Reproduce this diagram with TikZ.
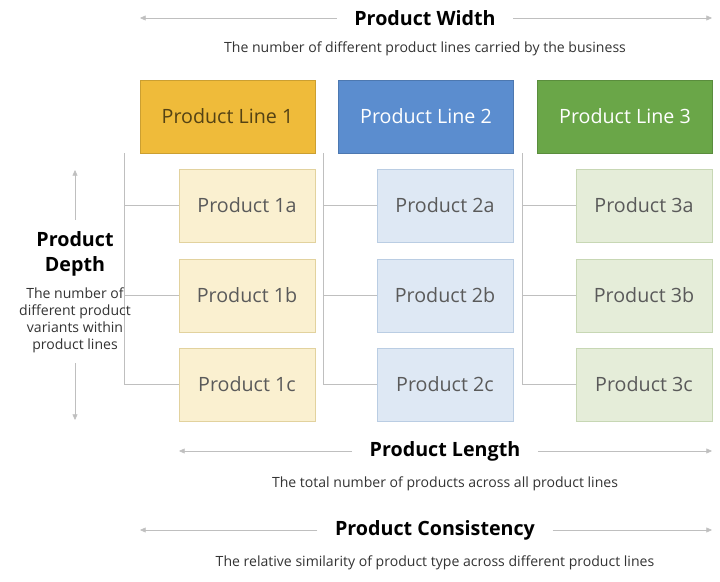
\documentclass[tikz,border=0pt]{standalone}
\usepackage{fontspec}
\setmainfont{Open Sans}
\usetikzlibrary{positioning,arrows.meta}
\definecolor{goldA}{HTML}{EFBB3A}
\definecolor{blueA}{HTML}{5B8DCF}
\definecolor{greenA}{HTML}{6AA648}
\definecolor{goldB}{HTML}{FAF0D0}
\definecolor{blueB}{HTML}{DEE8F4}
\definecolor{greenB}{HTML}{E5EDD9}
\definecolor{goldC}{HTML}{E2D29E}
\definecolor{blueC}{HTML}{BACDE3}
\definecolor{greenC}{HTML}{C7D7B4}
\definecolor{txt}{HTML}{5A5A5A}
\definecolor{rule}{HTML}{BFBFBF}
\tikzset{
  line/.style={draw=#1, minimum width=4.375cm, minimum height=1.825cm, font=\fontsize{14}{16}\selectfont},
  prod/.style={draw=#1, minimum width=3.4cm, minimum height=1.825cm, text=txt, font=\fontsize{14}{16}\selectfont},
  title/.style={font=\fontsize{14}{16}\selectfont\bfseries, inner sep=1pt},
  sub/.style={font=\fontsize{10}{12}\selectfont, text=black!80, inner sep=1pt},
  gray arrow/.style={draw=rule, -{Triangle[length=4pt,width=3.5pt]}},
  tree/.style={draw=rule, thick}
}
\begin{document}
\begin{tikzpicture}[x=0.025cm, y=-0.025cm]

\useasboundingbox (0,0) rectangle (720,582);

% Product lines
\node[line=goldA!85!black, fill=goldA, text=black!65!goldA] (pl1) at (227.5,116.5) {Product Line 1};
\node[line=blueA!85!black, fill=blueA, text=white] (pl2) at (426,116.5) {Product Line 2};
\node[line=greenA!85!black, fill=greenA, text=white] (pl3) at (625,116.5) {Product Line 3};

% Products
\foreach \i/\x/\c in {1/247/gold, 2/445/blue, 3/644/green} {
  \node[prod=\c C, fill=\c B] (p\i a) at (\x,205.5) {Product \i a};
  \node[prod=\c C, fill=\c B] (p\i b) at (\x,295.5) {Product \i b};
  \node[prod=\c C, fill=\c B] (p\i c) at (\x,384.5) {Product \i c};
}

% Tree lines
\foreach \i in {1,2,3} {
  \coordinate (t\i) at ([xshift=-0.375cm]pl\i.south west);
  \draw[tree] (t\i) |- (p\i c.west);
  \draw[tree] (t\i |- p\i a.west) -- (p\i a.west);
  \draw[tree] (t\i |- p\i b.west) -- (p\i b.west);
}

% Product width
\node[title] (wid) at (425,18) {Product Width};
\node[sub] (widsub) at (425,49) {The number of different product lines carried by the business};
\coordinate (widL) at (140,18);
\coordinate (widR) at (712,18);
\draw[gray arrow] ([xshift=-0.4cm]wid.west) -- (widL);
\draw[gray arrow] ([xshift=0.4cm]wid.east) -- (widR);

% Product depth
\node[title, align=center] (dep) at (75,254) {Product\\[2pt]Depth};
\node[sub, align=center] (depsub) at (75,320) {The number of\\different product\\variants within\\product lines};
\coordinate (depT) at (75,170);
\coordinate (depB) at (75,420);
\draw[gray arrow] (75,220) -- (depT);
\draw[gray arrow] (75,363) -- (depB);

% Product length
\node[title] (len) at (445,451) {Product Length};
\node[sub] (lensub) at (445,484) {The total number of products across all product lines};
\coordinate (lenL) at (179,451);
\coordinate (lenR) at (712,451);
\draw[gray arrow] ([xshift=-0.4cm]len.west) -- (lenL);
\draw[gray arrow] ([xshift=0.4cm]len.east) -- (lenR);

% Product consistency
\node[title] (con) at (435,530) {Product Consistency};
\node[sub] (consub) at (435,563) {The relative similarity of product type across different product lines};
\coordinate (conL) at (140,530);
\coordinate (conR) at (712,530);
\draw[gray arrow] ([xshift=-0.4cm]con.west) -- (conL);
\draw[gray arrow] ([xshift=0.4cm]con.east) -- (conR);

\end{tikzpicture}
\end{document}
